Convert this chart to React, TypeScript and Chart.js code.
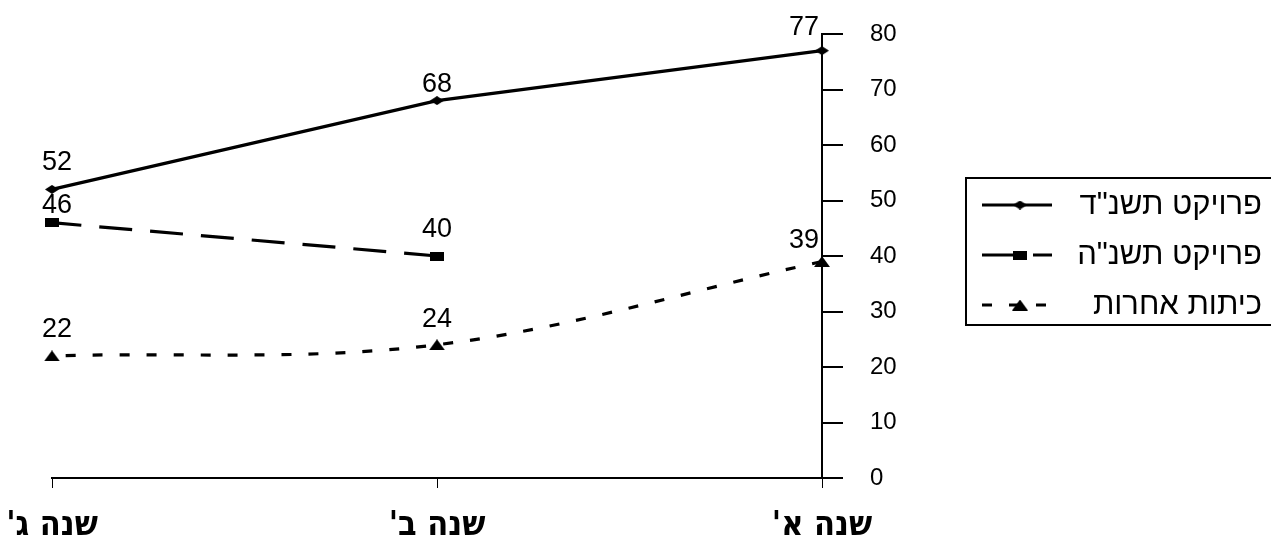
import React, { useEffect, useRef } from "react";
import { Chart, registerables } from "chart.js";

Chart.register(...registerables);

// ---- data ----
const categories = ["שנה א'", "שנה ב'", "שנה ג'"];
const seriesNames = ['פרויקט תשנ"ד', 'פרויקט תשנ"ה', "כיתות אחרות"];
const project54 = [77, 68, 52];
const project55 = [null, 40, 46];
const otherClasses = [39, 24, 22];
const yMin = 0;
const yMax = 80;
const yStep = 10;

// ---- style ----
const FONT = "'Liberation Sans', Arial, sans-serif";
const RLM = "\u200F";
const labelGaps = [
  [16, 9, 19],
  [0, 19, 10],
  [14, 18, 19],
];

function makeMarker(kind: string, w: number, h: number): HTMLCanvasElement {
  const c = document.createElement("canvas");
  c.width = w;
  c.height = h;
  const ctx = c.getContext("2d")!;
  ctx.fillStyle = "#000";
  ctx.beginPath();
  if (kind === "diamond") {
    ctx.moveTo(w / 2, 0);
    ctx.lineTo(w, h / 2);
    ctx.lineTo(w / 2, h);
    ctx.lineTo(0, h / 2);
    ctx.closePath();
  } else if (kind === "rect") {
    ctx.rect(0, 0, w, h);
  } else {
    ctx.moveTo(w / 2, 0);
    ctx.lineTo(w, h);
    ctx.lineTo(0, h);
    ctx.closePath();
  }
  ctx.fill();
  return c;
}

export default function App() {
  const ref = useRef<HTMLCanvasElement | null>(null);

  useEffect(() => {
    if (!ref.current) return;
    const diamond = makeMarker("diamond", 14, 9);
    const square = makeMarker("rect", 14, 9);
    const triangle = makeMarker("triangle", 16, 11);
    const markers = [diamond, square, triangle];
    const dashes = [[], [33, 18], [10, 17]];

    const dataLabels = {
      id: "dataLabels",
      afterDatasetsDraw(chart: any) {
        const ctx = chart.ctx;
        ctx.save();
        ctx.font = `27px ${FONT}`;
        ctx.fillStyle = "#000";
        ctx.textBaseline = "alphabetic";
        chart.data.datasets.forEach((ds: any, di: number) => {
          const meta = chart.getDatasetMeta(di);
          meta.data.forEach((pt: any, i: number) => {
            const v = ds.data[i];
            if (v === null || v === undefined) return;
            let x = pt.x;
            if (i === 0) {
              ctx.textAlign = "right";
              x = pt.x - 3;
            } else if (i === ds.data.length - 1) {
              ctx.textAlign = "center";
              x = pt.x + 5;
            } else {
              ctx.textAlign = "center";
            }
            ctx.fillText(String(v), x, pt.y - labelGaps[di][i]);
          });
        });
        ctx.restore();
      },
    };

    const boxLegend = {
      id: "boxLegend",
      afterDraw(chart: any) {
        const ctx = chart.ctx;
        ctx.save();
        ctx.strokeStyle = "#000";
        ctx.lineWidth = 2;
        ctx.strokeRect(966, 178, 330, 147);
        chart.data.datasets.forEach((ds: any, di: number) => {
          const y = 205 + di * 50;
          ctx.beginPath();
          ctx.setLineDash(dashes[di]);
          ctx.lineWidth = 3;
          ctx.moveTo(982, y);
          ctx.lineTo(1052, y);
          ctx.stroke();
          ctx.setLineDash([]);
          const m = markers[di];
          ctx.drawImage(m, 1020 - m.width / 2, y - m.height / 2);
          ctx.font = `31px ${FONT}`;
          ctx.fillStyle = "#000";
          ctx.textAlign = "right";
          ctx.textBaseline = "middle";
          ctx.fillText(RLM + ds.label + RLM, 1262, y);
        });
        ctx.restore();
      },
    };

    const mkDs = (label: string, data: (number | null)[], di: number, tension: number) => ({
      label,
      data,
      borderColor: "#000",
      backgroundColor: "#000",
      borderWidth: 3.2,
      borderDash: dashes[di],
      pointStyle: markers[di],
      pointRadius: 6,
      tension,
      spanGaps: false,
    });

    const chart = new Chart(ref.current, {
      type: "line",
      data: {
        labels: categories,
        datasets: [
          mkDs(seriesNames[0], project54, 0, 0),
          mkDs(seriesNames[1], project55, 1, 0),
          mkDs(seriesNames[2], otherClasses, 2, 0.35),
        ],
      },
      options: {
        responsive: false,
        animation: false,
        layout: { padding: { left: 52, top: 34, right: 0, bottom: 0 } },
        plugins: {
          legend: { display: false },
          tooltip: { enabled: false },
        },
        scales: {
          x: {
            reverse: true,
            offset: false,
            grid: {
              drawOnChartArea: false,
              tickLength: 10,
              color: "#000",
              lineWidth: 1,
            },
            border: { color: "#000", width: 2 },
            ticks: {
              color: "#000",
              padding: 18,
              maxRotation: 0,
              callback(this: any, value: any, index: number) {
                return RLM + categories[index] + RLM;
              },
              font: { family: "'DejaVu Sans Condensed', 'DejaVu Sans', sans-serif", weight: "bold", size: 34 },
            },
            afterFit(scale: any) {
              scale.height = 62;
              scale.paddingLeft = 0;
              scale.paddingRight = 0;
            },
          },
          y: {
            position: "right",
            min: yMin,
            max: yMax,
            grid: {
              drawOnChartArea: false,
              tickLength: 21,
              color: "#000",
              lineWidth: 2,
            },
            border: { color: "#000", width: 2 },
            ticks: {
              stepSize: yStep,
              color: "#000",
              padding: 27,
              font: { family: FONT, size: 24 },
            },
            afterFit(scale: any) {
              scale.width = 449;
              scale.paddingTop = 0;
              scale.paddingBottom = 0;
            },
          },
        },
      },
      plugins: [dataLabels, boxLegend],
    });
    return () => chart.destroy();
  }, []);

  return (
    <div style={{ position: "fixed", left: 0, top: 0, width: 1271, height: 540, background: "#fff" }}>
      <canvas ref={ref} width={1271} height={540} style={{ width: 1271, height: 540, display: "block" }} />
    </div>
  );
}
